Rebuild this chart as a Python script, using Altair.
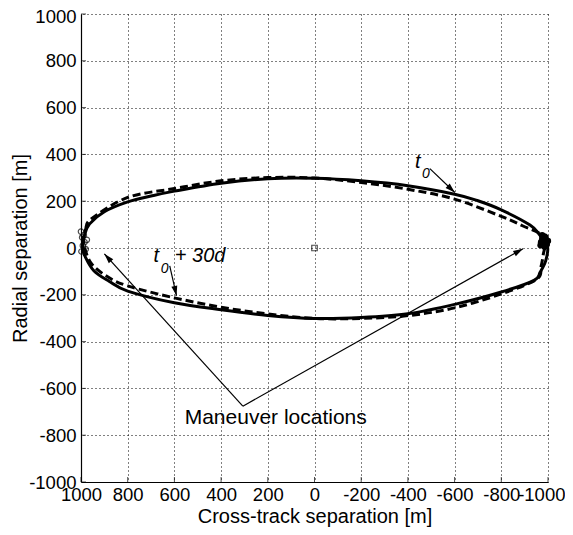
import math
import altair as alt
import pandas as pd

FONT = "Liberation Sans"

# Solid ellipse (t0 orbit), points going round
solid_x = [993, 985, 963, 900, 800, 700, 600, 400, 200, 0, -200, -400, -600, -700, -800, -923, -965, -998,
           -990, -966, -940, -800, -600, -400, -200, 0, 200, 400, 600, 800, 880, 945, 983]
solid_y = [0, 55, 103, 155, 197, 222, 243, 277, 296, 298, 287, 266, 230, 202, 163, 98, 55, 5,
           -55, -104, -138, -188, -241, -281, -297, -301, -288, -264, -234, -184, -142, -97, -35]

# Dashed ellipse (t0 + 30d)
dash_x = [990, 980, 955, 800, 600, 400, 200, 0, -200, -400, -600, -800, -893, -966, -985,
          -980, -970, -951, -800, -600, -400, -200, 0, 200, 400, 600, 800, 891, 960]
dash_y = [30, 80, 125, 216, 254, 287, 301, 299, 280, 251, 209, 135, 94, 60, 10,
          -26, -80, -134, -196, -256, -289, -301, -301, -282, -253, -213, -162, -120, -60]

# Maneuver markers
man_left_x = [1000, 995, 985, 992, 980, 998, 988, 975]
man_left_y = [70, 45, 25, 10, -5, -15, 55, 35]
man_right_x = [-985, -975, -990, -980, -970, -995, -985, -975, -990, -978, -1000, -968]
man_right_y = [50, 40, 30, 20, 25, 15, 5, 55, 45, 32, 30, 12]

# Annotation arrows (start -> tip)
arr_x1 = [-494, 620, 307, 307]
arr_y1 = [339, -76, -676, -676]
arr_x2 = [-601, 591, 900, -893]
arr_y2 = [237, -204, -25, -3]

# Texts
t_label = {"x": [-430, 689], "y": [344, -59], "text": ["t", "t"]}
sub_label = {"x": [-460, 658], "y": [301, -106], "text": ["0", "0"]}
plus_label = {"x": [598], "y": [-59], "text": ["+ 30d"]}
man_label = {"x": [556], "y": [-753], "text": ["Maneuver locations"]}

ticks = list(range(-1000, 1001, 200))

def X(field="x"):
    return alt.X(f"{field}:Q",
                 scale=alt.Scale(domain=[-1000, 1000], reverse=True, nice=False, zero=False),
                 axis=alt.Axis(values=ticks, title="Cross-track separation [m]", ticks=False,
                               labelExpr="'' + datum.value",
                               labelAlign=alt.ExprRef(expr="datum.value == -1000 ? 'right' : 'center'"),
                               labelOffset=alt.ExprRef(expr="datum.value == -1000 ? 17 : 0")))

def Y(field="y"):
    return alt.Y(f"{field}:Q",
                 scale=alt.Scale(domain=[-1000, 1000], nice=False, zero=False),
                 axis=alt.Axis(values=ticks, title="Radial separation [m]", ticks=False,
                               labelExpr="'' + datum.value",
                               labelOffset=alt.ExprRef(expr="datum.value == 1000 ? 2 : 0")))

solid_df = pd.DataFrame({"x": solid_x, "y": solid_y, "i": range(len(solid_x))})
dash_df = pd.DataFrame({"x": dash_x, "y": dash_y, "i": range(len(dash_x))})
tick_df = pd.DataFrame({"x": ticks, "y": ticks})

solid = alt.Chart(solid_df).mark_line(
    interpolate="cardinal-closed", color="black", strokeWidth=3
).encode(x=X(), y=Y(), order="i:Q")

dashed = alt.Chart(dash_df).mark_line(
    interpolate="cardinal-closed", color="black", strokeWidth=3, strokeDash=[8, 4]
).encode(x=X(), y=Y(), order="i:Q")

# inward tick marks
xticks = alt.Chart(tick_df).mark_tick(
    orient="vertical", color="black", size=5, thickness=1
).encode(x=X(), y=alt.value(465.5))
yticks = alt.Chart(tick_df).mark_tick(
    orient="horizontal", color="black", size=5, thickness=1
).encode(y=Y(), x=alt.value(2.5))

left_pts = alt.Chart(pd.DataFrame({"x": man_left_x, "y": man_left_y})).mark_point(
    shape="circle", size=30, color="black", strokeWidth=1.2, filled=False
).encode(x=X(), y=Y())

right_pts = alt.Chart(pd.DataFrame({"x": man_right_x, "y": man_right_y})).mark_point(
    shape="circle", size=40, color="black", strokeWidth=1.5, filled=True, opacity=1
).encode(x=X(), y=Y())

origin = alt.Chart(pd.DataFrame({"x": [0], "y": [0]})).mark_point(
    shape="square", size=30, color="black", strokeWidth=1.2, filled=False
).encode(x=X(), y=Y())

arr_df = pd.DataFrame({"x": arr_x1, "y": arr_y1, "x2": arr_x2, "y2": arr_y2})
arr_df["angle"] = [
    (math.degrees(math.atan2(-(b - a), (d - c))) + 360) % 360
    for a, b, c, d in zip(arr_df.x, arr_df.x2, arr_df.y, arr_df.y2)
]

rules = alt.Chart(arr_df).mark_rule(color="black", strokeWidth=1.2).encode(
    x=X(), y=Y(), x2="x2:Q", y2="y2:Q"
)

heads = alt.Chart(arr_df).mark_point(
    shape="M0,0L-1,3.3L1,3.3Z", size=36, filled=True, color="black", opacity=1
).encode(x=X("x2"), y=Y("y2"), angle=alt.Angle("angle:Q", scale=None))

t_text = alt.Chart(pd.DataFrame(t_label)).mark_text(
    font=FONT, fontSize=20, fontStyle="italic", align="left", baseline="alphabetic", color="black"
).encode(x=X(), y=Y(), text="text:N")

sub_text = alt.Chart(pd.DataFrame(sub_label)).mark_text(
    font=FONT, fontSize=14, fontStyle="italic", align="left", baseline="alphabetic", color="black"
).encode(x=X(), y=Y(), text="text:N")

plus_text = alt.Chart(pd.DataFrame(plus_label)).mark_text(
    font=FONT, fontSize=20, fontStyle="italic", align="left", baseline="alphabetic", color="black"
).encode(x=X(), y=Y(), text="text:N")

man_text = alt.Chart(pd.DataFrame(man_label)).mark_text(
    font=FONT, fontSize=21, align="left", baseline="alphabetic", color="black"
).encode(x=X(), y=Y(), text="text:N")

chart = alt.layer(
    solid, dashed, xticks, yticks, left_pts, right_pts, origin, rules, heads,
    t_text, sub_text, plus_text, man_text
).properties(
    width=467, height=468,
    autosize=alt.AutoSizeParams(type="none"),
    padding={"left": 73, "top": 6, "right": 17, "bottom": 45},
    background="white",
).configure_view(
    stroke=None
).configure_axis(
    grid=True, gridColor="black", gridDash=[1, 3], gridWidth=1, gridOpacity=1,
    domainColor="black", domainWidth=1.2,
    labelFont=FONT, labelFontSize=18.5, labelColor="black", labelOverlap=False, labelFlush=False,
    titleFont=FONT, titleFontSize=20, titleFontWeight="normal", titleColor="black",
).configure_axisX(
    labelPadding=3, titleY=40, titleBaseline="alphabetic", titleAlign="center", domain=True
).configure_axisY(
    labelPadding=5, titleX=-61, titleY=234, titleAlign="center", titleBaseline="middle", titleAngle=270
)

chart.save("out.html", embed_options={"renderer": "svg", "actions": False})
